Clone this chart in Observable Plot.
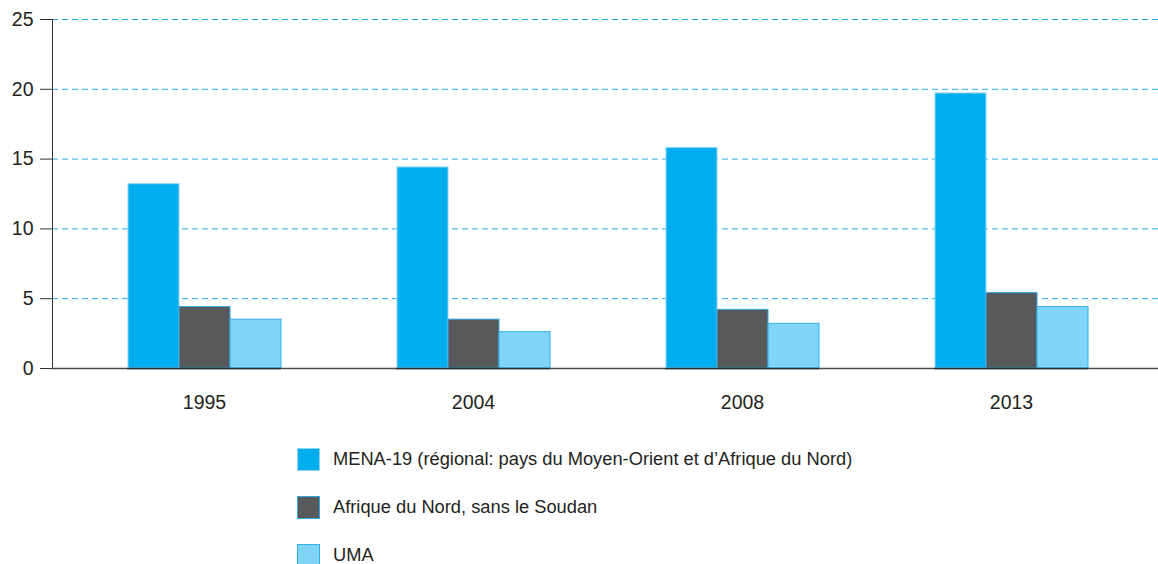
<!DOCTYPE html>
<html>
<head>
<meta charset="utf-8">
<script src="https://cdn.jsdelivr.net/npm/d3@7"></script>
<script src="https://cdn.jsdelivr.net/npm/@observablehq/plot@0.6"></script>
<style>
  html, body { margin: 0; padding: 0; background: #fff; }
  body { width: 1158px; height: 564px; overflow: hidden; font-family: "Liberation Sans", Arial, sans-serif; color: #231f20; }
  #chart { position: relative; width: 1158px; height: 430px; }
  #chart svg { position: absolute; left: 0; top: 0; }
  #legend { margin-left: 297px; margin-top: 5px; }
  .item { display: flex; align-items: center; height: 48px; font-size: 18.3px; }
  .sw { width: 23px; height: 23px; margin-right: 13px; box-sizing: border-box; border: 1px solid; }
</style>
</head>
<body>
<div id="chart"></div>
<div id="legend"></div>
<script>
const years = ["1995", "2004", "2008", "2013"];
const seriesNames = [
  "MENA-19 (régional: pays du Moyen-Orient et d’Afrique du Nord)",
  "Afrique du Nord, sans le Soudan",
  "UMA"
];
const mena = [13.2, 14.4, 15.8, 19.7];
const afriqueNord = [4.4, 3.5, 4.2, 5.4];
const uma = [3.5, 2.6, 3.2, 4.4];
const yTicks = [0, 5, 10, 15, 20, 25];
const fills = ["#00aeef", "#58595b", "#80d5f7"];
const strokes = ["#8fd6f5", "#2fa9e0", "#2fb0e8"];

const seriesValues = [mena, afriqueNord, uma];
const rows = seriesNames.map((s, i) => years.map((y, j) => ({year: y, series: s, value: seriesValues[i][j]})));

const common = {
  width: 1158,
  height: 430,
  marginTop: 19,
  marginBottom: 62,
  marginLeft: 52,
  marginRight: 0,
  y: {domain: [0, 25], ticks: yTicks}
};
const font = {fontFamily: "'Liberation Sans', Arial, sans-serif", fontSize: "19.5px", color: "#231f20"};

// Layer A: grid, y axis, axis lines
const base = Plot.plot({
  ...common,
  style: {...font, background: "white"},
  marks: [
    Plot.ruleY(yTicks.filter(t => t > 0), {stroke: "#29abe2", strokeDasharray: "6,4", strokeWidth: 1}),
    Plot.axisY({ticks: yTicks, tickSize: 12, tickPadding: 7, label: null, stroke: "#333"}),
    Plot.frame({anchor: "left", stroke: "#333"}),
    Plot.ruleY([0], {stroke: "#4a4a4a", strokeWidth: 1.5})
  ]
});

// Layer B: grouped bars
const bars = Plot.plot({
  ...common,
  style: {...font, background: "transparent"},
  fx: {domain: years, range: [69, 1146], paddingInner: 0.428, paddingOuter: 0.214, label: null},
  x: {domain: seriesNames, padding: 0, axis: null},
  marks: [
    ...rows.map((r, i) => Plot.barY(r, {fx: "year", x: "series", y: "value", fill: fills[i], stroke: strokes[i], strokeWidth: 1})),
    Plot.ruleY([0], {stroke: "#1f2f36", strokeWidth: 1.5}),
    Plot.axisY({ticks: [], label: null}),
    Plot.axisFx({anchor: "bottom", tickSize: 0, tickPadding: 27, label: null})
  ]
});

const chartDiv = document.getElementById("chart");
chartDiv.appendChild(base);
chartDiv.appendChild(bars);

const legend = document.getElementById("legend");
seriesNames.forEach((s, i) => {
  const item = document.createElement("div");
  item.className = "item";
  const sw = document.createElement("div");
  sw.className = "sw";
  sw.style.background = fills[i];
  sw.style.borderColor = strokes[i];
  const t = document.createElement("span");
  t.textContent = s;
  item.appendChild(sw);
  item.appendChild(t);
  legend.appendChild(item);
});
</script>
</body>
</html>
